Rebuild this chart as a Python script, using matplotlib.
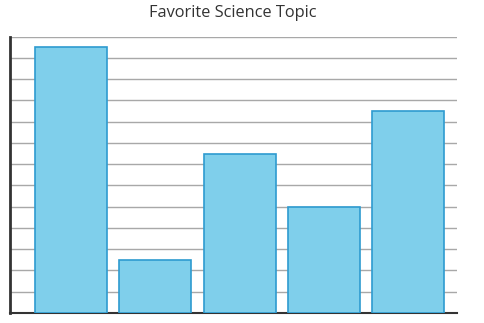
import matplotlib
matplotlib.use("Agg")
import matplotlib.pyplot as plt

categories = ["A", "B", "C", "D", "E"]
values = [12.5, 2.5, 7.5, 5, 9.5]
title = "Favorite Science Topic"

W, H = 484, 323
fig = plt.figure(figsize=(W/100, H/100), dpi=100)
ax = fig.add_axes([10/W, 1-313/H, (457-10)/W, (313-36.7)/H])

x = list(range(len(categories)))
ax.bar(x, values, width=0.855, color="#7fcfeb", edgecolor="#2e9bd0", linewidth=1.2, zorder=3)

ax.set_ylim(0, 13)
ax.set_xlim(-0.724, 4.58)
ax.set_yticks(range(0, 14))
ax.yaxis.grid(True, color="#a8a8a8", linewidth=1.0, zorder=0)
ax.set_xticks([])
ax.tick_params(axis="y", length=0, labelleft=False)
for s in ["top", "right"]:
    ax.spines[s].set_visible(False)
ax.spines["left"].set_color("#333333")
ax.spines["left"].set_linewidth(2)
ax.spines["bottom"].set_color("#333333")
ax.spines["bottom"].set_linewidth(1.5)

fig.text(233/W, 1-13/H, title, ha="center", va="center", fontsize=11.8,
         family="Open Sans", color="#333333")

fig.savefig("out.png", dpi=100)
